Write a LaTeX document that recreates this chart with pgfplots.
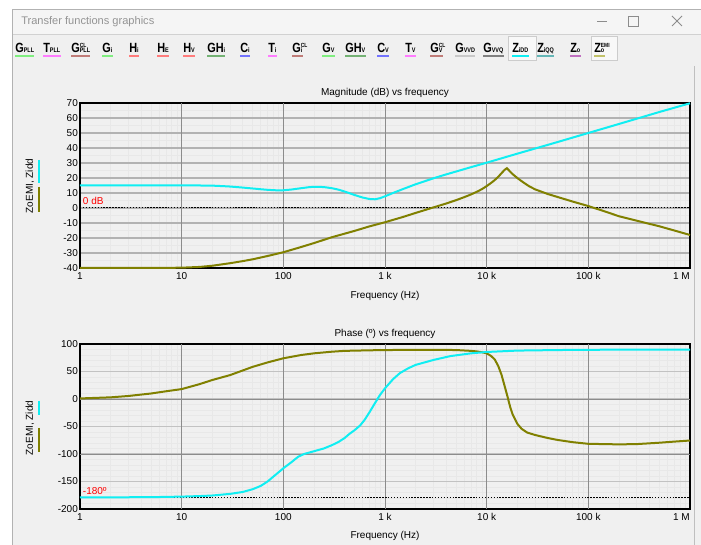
\documentclass[border=0pt]{standalone}
\usepackage{pgfplots}
\pgfplotsset{compat=1.18}
\usepackage{fontspec}
\setmainfont{Liberation Sans}

\definecolor{zcyan}{HTML}{10EEF2}
\definecolor{zolive}{HTML}{808000}
\definecolor{winbg}{HTML}{F0F0F0}
\definecolor{gridD}{HTML}{8C8C8C}
\definecolor{uGreen}{HTML}{80EE80}
\definecolor{uPink}{HTML}{FF7CFF}
\definecolor{uRose}{HTML}{C07C78}
\definecolor{uRed}{HTML}{FF7C7C}
\definecolor{uMid}{HTML}{74B274}
\definecolor{uBlue}{HTML}{7474FF}
\definecolor{uLGray}{HTML}{C8C8C8}
\definecolor{uDGray}{HTML}{808080}
\definecolor{uTeal}{HTML}{64B6B6}
\definecolor{uPurp}{HTML}{C070C0}
\definecolor{uOlive}{HTML}{C2C26A}

% toolbar label pieces
\newcommand\sbx[1]{{\fontsize{5}{6}\selectfont #1}}
\newcommand\sps[2]{\rlap{\raisebox{4.4pt}{\fontsize{4.5}{5}\selectfont #1}}\sbx{#2}}
\newcommand\tb[3]{%
  \node[anchor=base west, inner sep=0pt, font=\bfseries\fontsize{10}{12}\selectfont] (t) at (#1,53) {\scalebox{0.82}[1]{#3}};
  \draw[#2, line width=1.5pt] ([yshift=-2.6pt]t.base west) -- ([yshift=-2.6pt]t.base east);}

\begin{document}
\begin{tikzpicture}
\begin{scope}[x=0.75pt, y=-0.75pt, shift={(0pt,408.75pt)}]
  \useasboundingbox (0,0) rectangle (701,545);
  \fill[white] (0,0) rectangle (701,545);
  % window
  \fill[winbg] (12,9) rectangle (701,545);
  \fill[black!4] (12,9) rectangle (701,35);
  \draw[black!30, line width=0.75pt] (12.5,545) -- (12.5,9.5) -- (701,9.5);
  \draw[black!18, line width=0.75pt] (13,35) -- (701,35);
  \draw[black!25, line width=0.75pt] (694,66) -- (694,545);
  \node[anchor=west, inner sep=0pt, text=black!42, font=\fontsize{8.3}{10}\selectfont] at (21,21.5) {Transfer functions graphics};
  \draw[black!45, line width=0.6pt] (597,21) -- (607,21);
  \draw[black!45, line width=0.6pt] (628,16) rectangle (638,26);
  \draw[black!45, line width=0.6pt] (672,16) -- (682,26) (672,26) -- (682,16);
  % pressed buttons
  \draw[black!20, fill=white!55!winbg] (508,36.5) rectangle (536,60);
  \draw[black!20, fill=white!55!winbg] (591,36.5) rectangle (617,60);
  % toolbar
  \tb{15}{uGreen}{G\sbx{PLL}}
  \tb{43}{uPink}{T\sbx{PLL}}
  \tb{71}{uRose}{G\sps{CL}{PLL}}
  \tb{102}{uGreen}{G\sbx{i}}
  \tb{129}{uRed}{H\sbx{i}}
  \tb{157}{uRed}{H\sbx{E}}
  \tb{183}{uRed}{H\sbx{V}}
  \tb{207}{uMid}{GH\sbx{i}}
  \tb{240}{uBlue}{C\sbx{i}}
  \tb{268}{uPink}{T\sbx{i}}
  \tb{292}{uRose}{G\sps{CL}{i}}
  \tb{322}{uGreen}{G\sbx{V}}
  \tb{345}{uMid}{GH\sbx{V}}
  \tb{377}{uBlue}{C\sbx{V}}
  \tb{405}{uPink}{T\sbx{V}}
  \tb{430}{uRose}{G\sps{CL}{V}}
  \tb{455}{uLGray}{G\sbx{VVD}}
  \tb{483}{uDGray}{G\sbx{VVQ}}
  \tb{512}{zcyan}{Z\sbx{iDD}}
  \tb{537}{uTeal}{Z\sbx{iQQ}}
  \tb{570}{uPurp}{Z\sbx{o}}
  \tb{594}{uOlive}{Z\sps{EMI}{o}}
  % titles and labels
  \node[font=\fontsize{7.5}{9}\selectfont] at (385,93) {Magnitude (dB) vs frequency};
  \node[font=\fontsize{7.5}{9}\selectfont] at (385,296) {Frequency (Hz)};
  \node[font=\fontsize{7.5}{9}\selectfont] at (385,334) {Phase (º) vs frequency};
  \node[font=\fontsize{7.5}{9}\selectfont] at (385,536) {Frequency (Hz)};
  \node[rotate=90, font=\fontsize{7.5}{9}\selectfont] at (30,186) {ZoEMI, Zidd};
  \draw[zcyan, line width=1.5pt] (39,160) -- (39,183);
  \draw[zolive, line width=1.5pt] (39,187) -- (39,212);
  \node[rotate=90, font=\fontsize{7.5}{9}\selectfont] at (30,428) {ZoEMI, Zidd};
  \draw[zcyan, line width=1.5pt] (39,401) -- (39,415);
  \draw[zolive, line width=1.5pt] (39,428) -- (39,452);
\end{scope}

% magnitude
\begin{axis}[at={(60pt,207.75pt)}, anchor=south west,
  scale only axis, width=457.5pt, height=123.75pt,
  xmode=log, xmin=1, xmax=1e6,
  xtick={1,10,100,1000,10000,100000},
  xticklabels={1,10,100,1 k,10 k,100 k},
  extra x ticks={1000000}, extra x tick labels={1 M},
  extra x tick style={xticklabel style={anchor=north east}},
  minor xtick={2,3,4,5,6,7,8,9,20,30,40,50,60,70,80,90,
      200,300,400,500,600,700,800,900,2000,3000,4000,5000,6000,7000,8000,9000,
      2e4,3e4,4e4,5e4,6e4,7e4,8e4,9e4,2e5,3e5,4e5,5e5,6e5,7e5,8e5,9e5},
  ymin=-40, ymax=70, ytick={-40,-30,...,70}, minor y tick num=1,
  xminorgrids, ymajorgrids, yminorgrids,
  major grid style={draw=black!30, line width=0.9pt},
  minor grid style={draw=black!9, line width=0.6pt},
  tick style={draw=none},
  tick label style={font=\fontsize{7.5}{9}\selectfont},
  /pgf/number format/assume math mode=true,
  xticklabel style={inner sep=0pt, yshift=-3.2pt},
  yticklabel style={inner sep=0pt, xshift=-1.4pt},
  axis line style={black, line width=0.8pt},
  clip=false]
  % decade grid lines
  \addplot[gridD, line width=0.7pt] coordinates {(10,-40) (10,70)};
  \addplot[gridD, line width=0.7pt] coordinates {(100,-40) (100,70)};
  \addplot[gridD, line width=0.7pt] coordinates {(1000,-40) (1000,70)};
  \addplot[gridD, line width=0.7pt] coordinates {(10000,-40) (10000,70)};
  \addplot[gridD, line width=0.7pt] coordinates {(100000,-40) (100000,70)};
  \addplot[black, line width=0.75pt, dash pattern=on 1.1pt off 1.1pt] coordinates {(1,0) (1e6,0)};
  \node[anchor=south west, inner sep=0pt, text=red, font=\fontsize{7.5}{9}\selectfont] at ([xshift=2pt,yshift=2.2pt]axis cs:1,0) {0 dB};
  \addplot[zolive, line width=1.5pt] coordinates {
    (1,-40) (5,-40) (10,-39.8) (15,-39.3) (20,-38.5) (30,-36.8) (40,-35.4)
    (50,-34.2) (70,-32) (100,-29.5) (150,-26) (200,-23.4) (300,-19.5)
    (500,-15.3) (700,-12.3) (1000,-9.5) (1500,-6) (2000,-3.3) (3000,0.4)
    (4000,3) (5000,5.2) (6000,7.2) (7000,9) (8000,10.8) (9000,12.6)
    (10000,14.6) (11000,16.6) (12000,18.6) (13000,20.8) (14000,23.2)
    (15000,25.4) (15800,26.5) (16500,25.2) (18000,22.6) (20000,20)
    (23000,17) (26000,14.6) (30000,12.4) (40000,9.3) (50000,7.3)
    (70000,4.3) (100000,1.3) (150000,-2.6) (200000,-5.5) (300000,-8.5)
    (500000,-12.2) (700000,-15) (1000000,-18)};
  \addplot[zcyan, line width=1.5pt] coordinates {
    (1,15) (2,15) (5,15) (10,15) (15,15) (20,14.9) (25,14.6) (30,14.3)
    (40,13.6) (50,13) (60,12.5) (70,12.1) (85,11.8) (100,11.8) (120,12.3)
    (150,13.2) (180,13.9) (200,14.1) (230,14.1) (260,13.8) (300,13.2)
    (350,12.2) (400,11) (450,9.8) (500,8.7) (600,7) (700,6) (800,5.8)
    (900,6.6) (1000,7.8) (1200,10) (1500,12.6) (2000,15.8) (3000,19.8)
    (4000,22.4) (5000,24.3) (7000,27.2) (10000,30.2) (20000,36.2)
    (50000,44) (100000,50) (200000,56) (500000,64) (1000000,69.8)};
\end{axis}

% phase
\begin{axis}[at={(60pt,27pt)}, anchor=south west,
  scale only axis, width=457.5pt, height=123.75pt,
  xmode=log, xmin=1, xmax=1e6,
  xtick={1,10,100,1000,10000,100000},
  xticklabels={1,10,100,1 k,10 k,100 k},
  extra x ticks={1000000}, extra x tick labels={1 M},
  extra x tick style={xticklabel style={anchor=north east}},
  minor xtick={2,3,4,5,6,7,8,9,20,30,40,50,60,70,80,90,
      200,300,400,500,600,700,800,900,2000,3000,4000,5000,6000,7000,8000,9000,
      2e4,3e4,4e4,5e4,6e4,7e4,8e4,9e4,2e5,3e5,4e5,5e5,6e5,7e5,8e5,9e5},
  ymin=-200, ymax=100, ytick={-200,-150,...,100}, minor y tick num=4,
  xminorgrids, ymajorgrids, yminorgrids,
  major grid style={draw=black!24, line width=1.1pt},
  minor grid style={draw=black!9, line width=0.6pt},
  tick style={draw=none},
  tick label style={font=\fontsize{7.5}{9}\selectfont},
  /pgf/number format/assume math mode=true,
  xticklabel style={inner sep=0pt, yshift=-3.2pt},
  yticklabel style={inner sep=0pt, xshift=-1.4pt},
  axis line style={black, line width=0.8pt},
  clip=false]
  % decade and darker horizontal grid lines
  \addplot[gridD, line width=0.7pt] coordinates {(10,-200) (10,100)};
  \addplot[gridD, line width=0.7pt] coordinates {(100,-200) (100,100)};
  \addplot[gridD, line width=0.7pt] coordinates {(1000,-200) (1000,100)};
  \addplot[gridD, line width=0.7pt] coordinates {(10000,-200) (10000,100)};
  \addplot[gridD, line width=0.7pt] coordinates {(100000,-200) (100000,100)};
  \addplot[gridD, line width=0.7pt] coordinates {(1,0) (1e6,0)};
  \addplot[gridD, line width=0.7pt] coordinates {(1,-100) (1e6,-100)};
  \addplot[black, line width=0.75pt, dash pattern=on 1.1pt off 1.1pt] coordinates {(1,-180) (1e6,-180)};
  \node[anchor=south west, inner sep=0pt, text=red, font=\fontsize{7.5}{9}\selectfont] at ([xshift=2pt,yshift=2.2pt]axis cs:1,-180) {-180º};
  \addplot[zolive, line width=1.5pt] coordinates {
    (1,1) (2,3) (3,5.5) (5,10) (7,14) (10,18) (15,27) (20,34.5) (30,43.5)
    (50,58.5) (70,66.5) (100,74) (150,80) (200,83) (300,86) (400,87.5)
    (700,88.5) (1000,89) (3000,89.5) (5000,89) (7000,87.5) (8000,86.5)
    (9000,85) (10000,83) (11000,78.5) (12000,72) (13000,60) (14000,44)
    (15000,24) (16000,5) (17000,-14) (18000,-28) (20000,-45) (22000,-54)
    (25000,-61) (30000,-65.5) (40000,-71) (50000,-74.5) (70000,-78.5)
    (100000,-81.5) (200000,-82.5) (300000,-82) (500000,-79.5)
    (700000,-77.5) (1000000,-75.5)};
  \addplot[zcyan, line width=1.5pt] coordinates {
    (1,-179) (5,-178.5) (10,-177.5) (15,-176.5) (20,-175.5) (30,-172.5)
    (40,-169) (50,-164) (60,-158) (70,-150) (80,-141) (100,-126)
    (120,-115) (140,-105) (160,-100) (200,-95) (250,-90) (300,-84)
    (350,-78) (400,-71) (450,-63) (500,-57) (570,-48) (630,-38) (710,-23)
    (800,-7) (890,7) (1000,19.5) (1200,36) (1400,47) (1700,56) (2000,62)
    (3000,71) (4400,78) (7000,83) (10000,85.5) (20000,88) (50000,89)
    (100000,89.5) (1000000,89.8)};
\end{axis}
\end{tikzpicture}
\end{document}
